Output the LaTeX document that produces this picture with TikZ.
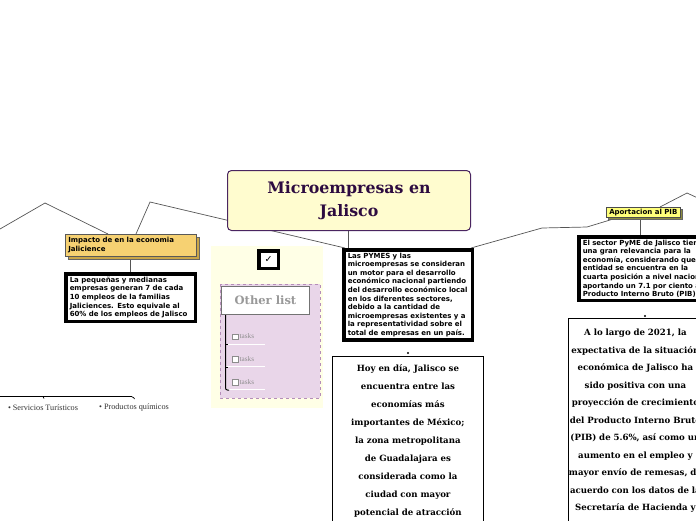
\documentclass[tikz,border=0pt]{standalone}
\usepackage{fontspec}
\setmainfont{DejaVu Serif}
\setsansfont{DejaVu Sans}
\newfontfamily\thinserif{Liberation Serif}
\usepackage{xcolor}
\usetikzlibrary{positioning, shadows, backgrounds}

\definecolor{titlefill}{HTML}{FFFCCF}
\definecolor{titleink}{HTML}{2D0B40}
\definecolor{titleedge}{HTML}{4A2560}
\definecolor{topicfill}{HTML}{F6D172}
\definecolor{topicshade}{HTML}{C9A547}
\definecolor{pibfill}{HTML}{FFFF7A}
\definecolor{pibshade}{HTML}{8C8C40}
\definecolor{panelfill}{HTML}{FFFFE6}
\definecolor{listfill}{HTML}{E9D6E9}
\definecolor{listedge}{HTML}{B58DB9}
\definecolor{linkgray}{HTML}{555555}

\newcommand{\notefont}{\sffamily\bfseries\fontsize{7}{8.6}\selectfont}
\newcommand{\slabfont}{\rmfamily\bfseries\fontsize{8.6}{18}\selectfont}

\begin{document}
\begin{tikzpicture}[x=1pt, y=-1pt,
  link/.style={draw=linkgray, line width=0.7pt},
  topicbox/.style={anchor=north west, fill=topicfill, draw=black!65, line width=0.5pt,
    inner xsep=3pt, inner ysep=2pt, align=left, font=\notefont,
    general shadow={shadow xshift=2.5pt, shadow yshift=-2.5pt, fill=topicshade, draw=black!60}},
  pibbox/.style={anchor=north west, fill=pibfill, draw=black!70, line width=0.5pt,
    inner xsep=3pt, inner ysep=1.8pt, align=left, font=\notefont,
    general shadow={shadow xshift=2pt, shadow yshift=-2pt, fill=pibshade, draw=black!60}},
  notebox/.style={anchor=north west, fill=white, draw=black, line width=3.5pt,
    inner xsep=4pt, inner ysep=3pt, align=left, font=\notefont},
  slabbox/.style={anchor=north west, fill=white, draw=black, line width=0.8pt,
    inner xsep=4pt, inner ysep=8pt, align=center, font=\slabfont},
  tickbox/.style={draw=black!45, fill=white, line width=0.5pt, minimum size=5.5pt, inner sep=0pt},
  tasklabel/.style={inner sep=0pt, text=black!45, font=\thinserif\fontsize{7.2}{8}\selectfont},
  bullet/.style={inner sep=0pt, text=black!80, font=\thinserif\fontsize{8.2}{9}\selectfont}
]
\path[use as bounding box, clip] (0,0) rectangle (696,520);

% checklist panel
\fill[panelfill] (211,246) rectangle (323,408);
\draw[listedge, fill=listfill, dashed, line width=0.6pt] (220,284) rectangle (320,398);

% central topic
\node[anchor=north west, fill=titlefill, draw=titleedge, line width=1pt, rounded corners=4pt,
  minimum width=243pt, minimum height=60pt, align=center, text=titleink,
  font=\rmfamily\bfseries\fontsize{15.8}{23}\selectfont] (title) at (227,170) {Microempresas en\\Jalisco};

% left branch
\node[topicbox, text width=125pt, minimum height=22pt] (impacto) at (65,234)
  {Impacto de en la economia\\Jalicience};
\node[notebox, text width=121.5pt, minimum height=47.5pt] (pequenas) at (64,272)
  {La pequeñas y medianas\\empresas generan 7 de cada\\10 empleos de la familias\\Jaliciences. Esto equivale al\\60\% de los empleos de Jalisco};

% middle branch
\node[notebox, text width=120.5pt, minimum height=89.5pt] (pymes) at (342,248)
  {Las PYMES y las\\microempresas se consideran\\un motor para el desarrollo\\económico nacional partiendo\\del desarrollo económico local\\en los diferentes sectores,\\debido a la cantidad de\\microempresas existentes y a\\la representatividad sobre el\\total de empresas en un país.};
\node[slabbox, text width=143pt] (hoy) at (332,356)
  {Hoy en día, Jalisco se\\encuentra entre las\\economías más\\importantes de México;\\la zona metropolitana\\de Guadalajara es\\considerada como la\\ciudad con mayor\\potencial de atracción\\de inversiones};
\fill (408,353) circle (1.1pt);

% right branch
\node[pibbox] (pib) at (606,207) {Aportacion al PIB};
\node[notebox, text width=140pt, minimum height=63.5pt] (sector) at (577,235)
  {El sector PyME de Jalisco tiene\\una gran relevancia para la\\economía, considerando que la\\entidad se encuentra en la\\cuarta posición a nivel nacional\\aportando un 7.1 por ciento al\\Producto Interno Bruto (PIB).};
\node[slabbox, text width=134pt, inner xsep=0pt, inner ysep=11pt,
  font=\rmfamily\bfseries\fontsize{8.6}{17.5}\selectfont] (largo) at (568,318)
  {A lo largo de 2021, la\\expectativa de la situación\\económica de Jalisco ha\\sido positiva con una\\proyección de crecimiento\\del Producto Interno Bruto\\(PIB) de 5.6\%, así como un\\aumento en el empleo y\\mayor envío de remesas, de\\acuerdo con los datos de la\\Secretaría de Hacienda y\\Crédito Público};
\fill (645,316) circle (1.1pt);

% checklist
\node[draw=black, fill=white, line width=3.5pt, minimum width=19.5pt, minimum height=17.5pt,
  inner sep=0pt, font=\sffamily\bfseries\fontsize{9.5}{9.5}\selectfont] (check) at (268.5,259.5) {✓};
\node[anchor=north west, draw=black!55, fill=white, line width=1pt, minimum width=88pt,
  minimum height=28pt, text=black!40, font=\rmfamily\bfseries\fontsize{11.5}{12}\selectfont] (other) at (221,286) {Other list};
\foreach \i/\yy in {1/336.5, 2/359, 3/382} {
  \draw[white, line width=1pt] (226,\yy+7.5) -- (265,\yy+7.5);
  \node[tickbox] (box\i) at (235,\yy) {};
  \node[tasklabel, right=1.5pt of box\i] (task\i) {tasks};
}
\draw[line width=1pt, rounded corners=2pt] (225.5,315) -- (225.5,390) -- (229,390);
\draw[line width=0.8pt] (225.5,344) -- (227.5,344) (225.5,367) -- (227.5,367);

% bottom items
\node[bullet] (item1) at (43,407.5) {• Servicios Turísticos};
\node[bullet] (item2) at (134,407.5) {• Productos químicos};
\draw[line width=0.7pt, rounded corners=1.5pt] (0,396.5) -- (133,396.5) -- (134.5,399);
\draw[line width=0.7pt] (43,396.5) -- (44,398.5);

% connectors
\begin{scope}[on background layer]
  \draw[link] (0,229) -- (45,203) -- ([xshift=43pt]impacto.north west);
  \draw[link] ([xshift=71pt]impacto.north west) -- (150,202) -- ([xshift=3pt]pymes.north west);
  \coordinate (tb) at ([xshift=-1pt]title.south);
  \draw[link] (tb) -- (tb |- pymes.north);
  \draw[link] (impacto.south) -- (impacto.south |- pequenas.north);
  \draw[link] ([xshift=-3pt]pymes.north east) -- (542,228) -- (587,227) -- ([xshift=11pt]pib.south west);
  \draw[link] ([xshift=54pt]pib.north west) -- (687,193) -- (700,199);
  \coordinate (pb) at ([xshift=-3pt]pib.south);
  \draw[link] (pb) -- (pb |- sector.north);
  \draw[link, draw=black, line width=1.2pt] (check.south) -- (other.north -| check.south);
\end{scope}
\end{tikzpicture}
\end{document}
